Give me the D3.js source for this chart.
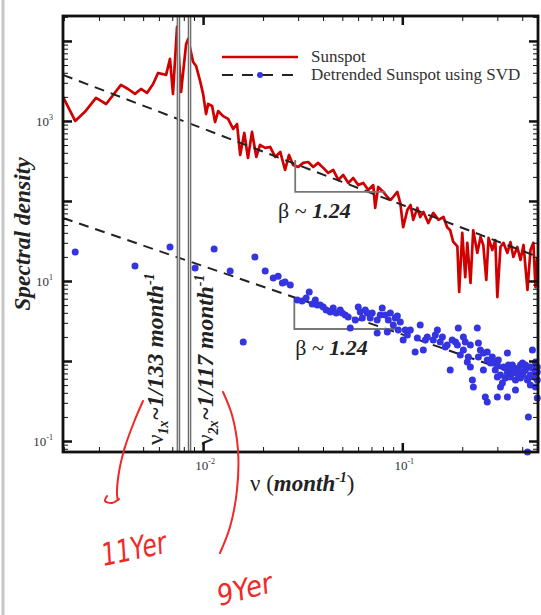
<!DOCTYPE html>
<html>
<head>
<meta charset="utf-8">
<script src="https://cdn.jsdelivr.net/npm/d3@7"></script>
<style>
  body { margin: 0; background: #fff; }
  svg { display: block; font-family: "Liberation Serif", "Times New Roman", serif; }
</style>
</head>
<body>
<div id="chart"></div>
<script>
// Sunspot spectrum (frequency in 1/month, spectral density)
const sunspotFreq = [
    0.00198, 0.00228, 0.00255, 0.0029, 0.00326, 0.00387, 0.0042, 0.00455, 0.00488, 0.00523,
    0.00561, 0.00594, 0.00652, 0.00682, 0.00706, 0.0074, 0.00775, 0.00822, 0.00841, 0.00891,
    0.00922, 0.00966, 0.01, 0.01035, 0.0106, 0.0111, 0.01148, 0.0119, 0.0126, 0.01335,
    0.01415, 0.0148, 0.01535, 0.0161, 0.0168, 0.0176, 0.0185, 0.0193, 0.0205, 0.0217,
    0.023, 0.0244, 0.0258, 0.027, 0.0283, 0.030, 0.0318, 0.0337, 0.0357, 0.0378,
    0.0401, 0.0425, 0.045, 0.0477, 0.0505, 0.0536, 0.0567, 0.0601, 0.0637, 0.0675,
    0.0715, 0.0731, 0.0757, 0.0803, 0.0841, 0.0871, 0.0891, 0.0944, 0.0977, 0.101,
    0.106, 0.110, 0.1135, 0.119, 0.123, 0.1276, 0.135, 0.143, 0.152, 0.161,
    0.168, 0.174, 0.180, 0.189, 0.193, 0.200, 0.207, 0.212, 0.220, 0.227,
    0.238, 0.247, 0.255, 0.264, 0.271, 0.283, 0.293, 0.300, 0.311, 0.322,
    0.337, 0.349, 0.361, 0.378, 0.392, 0.406, 0.425, 0.440, 0.455, 0.466, 0.476
];
const sunspotPower = [
    2000, 1000, 1300, 1940, 1630, 2820, 2510, 2180, 2510, 2240,
    2900, 3980, 3760, 5960, 2180, 15000, 2300, 9170, 10600, 5460,
    4870, 3160, 2180, 1220, 1630, 1540, 970, 1330, 1150, 1060,
    794, 917, 376, 708, 345, 729, 355, 501, 460, 473,
    355, 410, 244, 376, 282, 266, 299, 307, 266, 299,
    259, 224, 244, 183, 211, 168, 194, 158, 168, 137,
    158, 82, 150, 130, 112, 103, 109, 130, 94, 47,
    77, 89, 58, 82, 63, 73, 53, 71, 58, 63,
    47, 43, 31, 27, 7.3, 40, 11.2, 30, 9.44, 43,
    22.4, 35.5, 28.2, 10.3, 34.5, 24.4, 32.5, 6.3, 26.6, 30,
    22.4, 30.7, 20, 26.6, 18.3, 28.2, 7.72, 24.4, 30, 8.4, 20
];

// Detrended sunspot (SVD) spectrum: [frequency, density]
const detrendedSpectrum = [
    [0.00228, 23.0], [0.00455, 15.4], [0.00682, 26.6], [0.00912, 14.5], [0.01136, 25.1],
    [0.01367, 13.3], [0.0159, 1.73], [0.0182, 20.0], [0.0205, 13.3], [0.0225, 10.9],
    [0.0238, 11.5], [0.0250, 9.44], [0.0258, 9.72], [0.0274, 8.91], [0.0297, 5.79],
    [0.0314, 5.62], [0.0329, 6.13], [0.0341, 7.29], [0.0353, 5.16], [0.0366, 5.79],
    [0.0374, 5.01], [0.0387, 5.01], [0.0401, 4.73], [0.0415, 4.34], [0.0435, 4.10],
    [0.0450, 4.60], [0.0466, 3.98], [0.0488, 4.34], [0.0499, 3.98], [0.0517, 3.76],
    [0.0535, 3.55], [0.0548, 2.58], [0.0581, 3.25], [0.0601, 4.73], [0.0615, 4.10],
    [0.0630, 3.45], [0.0652, 4.34], [0.0667, 3.98], [0.0690, 3.45], [0.0706, 3.98],
    [0.0748, 3.25], [0.0748, 2.24], [0.0775, 3.76], [0.0793, 4.60], [0.0821, 3.76],
    [0.0841, 2.30], [0.0851, 3.25], [0.0871, 3.98], [0.0901, 2.82], [0.0922, 3.45],
    [0.0944, 3.65], [0.0955, 2.44], [0.0977, 3.07], [0.101, 1.83], [0.1035, 2.44],
    [0.106, 2.11], [0.1097, 2.44], [0.116, 1.30], [0.119, 1.94], [0.123, 2.82],
    [0.1275, 1.37], [0.1305, 1.83], [0.1335, 2.00], [0.143, 1.83], [0.1465, 2.11],
    [0.150, 2.44], [0.155, 1.73], [0.159, 2.00], [0.1645, 1.50], [0.168, 1.585],
    [0.174, 0.772], [0.178, 1.83], [0.185, 1.73], [0.189, 1.585], [0.191, 2.58],
    [0.1955, 1.19], [0.2026, 2.00], [0.2026, 1.37], [0.207, 1.73], [0.212, 0.97],
    [0.2146, 1.12], [0.2196, 0.841], [0.2196, 1.585], [0.2248, 0.579], [0.2274, 0.473],
    [0.238, 2.58], [0.241, 1.68], [0.241, 1.12], [0.2466, 1.37], [0.2553, 1.26],
    [0.2553, 0.772], [0.261, 0.355], [0.267, 0.307], [0.267, 1.30], [0.267, 1.03],
    [0.277, 0.944], [0.283, 1.12], [0.2865, 0.944], [0.293, 0.772], [0.300, 0.631],
    [0.300, 0.355], [0.300, 0.891], [0.3035, 1.03], [0.311, 0.668], [0.311, 0.473],
    [0.318, 0.531], [0.3217, 0.841], [0.329, 0.818], [0.329, 0.613], [0.337, 1.26],
    [0.337, 0.708], [0.337, 0.355], [0.341, 0.891], [0.349, 0.631], [0.349, 0.772],
    [0.357, 0.708], [0.357, 0.891], [0.361, 0.818], [0.370, 0.579], [0.370, 0.434],
    [0.370, 0.729], [0.378, 0.772], [0.383, 0.668], [0.383, 0.818], [0.392, 0.891],
    [0.392, 0.613], [0.401, 0.944], [0.401, 0.668], [0.4055, 0.729], [0.415, 0.772],
    [0.415, 0.891], [0.425, 0.841], [0.425, 0.579], [0.425, 0.0729], [0.4295, 0.613],
    [0.4295, 0.200], [0.4395, 0.841], [0.4395, 0.668], [0.4395, 0.501], [0.450, 1.37],
    [0.450, 0.818], [0.455, 0.668], [0.466, 0.729], [0.466, 0.473], [0.466, 0.970],
    [0.476, 0.841], [0.476, 0.579], [0.476, 0.345], [0.476, 0.729]
];

// Power-law fits (beta ~ 1.24), endpoints [frequency, density]
const fitSunspot = [[0.00198, 3760], [0.48, 20]];
const fitDetrended = [[0.00198, 61.3], [0.48, 0.562]];

// Slope triangles and their labels
const slopeSunspot = [[0.0290, 325], [0.0290, 130], [0.0821, 130]];
const slopeDetrended = [[0.0287, 6.13], [0.0287, 2.51], [0.0955, 2.51]];
const betaLabels = [{ f: 0.0238, p: 61.3, text: "1.24" }, { f: 0.029, p: 1.19, text: "1.24" }];

// Solar cycle frequencies (periods in months)
const cyclePeriods = [133, 117];
const cycleSubs = ["1x", "2x"];
const cycleLabelFreq = [0.00629, 0.01123];
const cycleLabelPower = 0.0891;

// Axis ranges and labelled ticks
const freqDomain = [0.00198, 0.48];
const powerDomain = [0.0729, 20500];
const xLabelTicks = [0.01, 0.1];
const yLabelTicks = [1000, 10, 0.1];

// Layout
const width = 541;
const height = 615;
const plot = { left: 63, top: 16, right: 538, bottom: 452 };

const svg = d3.select("#chart")
    .append("svg")
    .attr("width", width)
    .attr("height", height);

// page edge
svg.append("line")
    .attr("x1", 3).attr("x2", 3).attr("y1", 0).attr("y2", height)
    .attr("stroke", "#c6c6c6").attr("stroke-width", 3);

const x = d3.scaleLog().domain(freqDomain).range([plot.left, plot.right]);
const y = d3.scaleLog().domain(powerDomain).range([plot.bottom, plot.top]);

const line = d3.line().x(d => x(d[0])).y(d => y(d[1]));

// Sunspot spectrum
svg.append("path")
    .datum(d3.zip(sunspotFreq, sunspotPower))
    .attr("d", line)
    .attr("fill", "none")
    .attr("stroke", "#d00000")
    .attr("stroke-width", 2.7)
    .attr("stroke-linejoin", "round");

// Fit lines
svg.append("g")
    .selectAll("path")
    .data([fitSunspot, fitDetrended])
    .join("path")
    .attr("d", line)
    .attr("fill", "none")
    .attr("stroke", "#222")
    .attr("stroke-width", 2)
    .attr("stroke-dasharray", "10,7");

// Slope triangles
svg.append("g")
    .selectAll("path")
    .data([slopeSunspot, slopeDetrended])
    .join("path")
    .attr("d", line)
    .attr("fill", "none")
    .attr("stroke", "#777")
    .attr("stroke-width", 1.8);

// Detrended points
svg.append("g")
    .selectAll("circle")
    .data(detrendedSpectrum)
    .join("circle")
    .attr("cx", d => x(d[0]))
    .attr("cy", d => y(d[1]))
    .attr("r", 3.5)
    .attr("fill", "#3434e0");

// Cycle lines
const cycleG = svg.append("g")
    .selectAll("g")
    .data(cyclePeriods)
    .join("g");
cycleG.append("line")
    .attr("x1", d => x(1 / d)).attr("x2", d => x(1 / d))
    .attr("y1", plot.top).attr("y2", plot.bottom)
    .attr("stroke", "#6e6e6e").attr("stroke-width", 3.6);
cycleG.append("line")
    .attr("x1", d => x(1 / d)).attr("x2", d => x(1 / d))
    .attr("y1", plot.top).attr("y2", plot.bottom)
    .attr("stroke", "#d4d4d4").attr("stroke-width", 1);

// Cycle labels (rotated)
cyclePeriods.forEach((p, i) => {
    const t = svg.append("text")
        .attr("transform", `translate(${x(cycleLabelFreq[i])},${y(cycleLabelPower)}) rotate(-90)`)
        .attr("font-size", 23.5)
        .attr("fill", "#222");
    t.append("tspan").text("ν");
    t.append("tspan").attr("dy", 5).attr("font-size", 14)
        .attr("font-weight", "bold").attr("font-style", "italic").text(cycleSubs[i]);
    t.append("tspan").attr("dy", -5)
        .attr("font-weight", "bold").attr("font-style", "italic").text(`~1/${p} month`);
    t.append("tspan").attr("dy", -9).attr("font-size", 14)
        .attr("font-weight", "bold").attr("font-style", "italic").text("-1");
});

// Beta labels
betaLabels.forEach(b => {
    const t = svg.append("text")
        .attr("x", x(b.f)).attr("y", y(b.p))
        .attr("font-size", 22)
        .attr("fill", "#222");
    t.append("tspan").text("β ~ ");
    t.append("tspan").attr("font-weight", "bold").attr("font-style", "italic").text(b.text);
});

// Ticks
const isDecade = v => Math.abs(Math.log10(v) - Math.round(Math.log10(v))) < 1e-9;
const xTicks = x.ticks().filter(v => v >= freqDomain[0] && v <= freqDomain[1]);
const yTicks = y.ticks().filter(v => v >= powerDomain[0] && v <= powerDomain[1]);

function drawTicks(axisFn, scale, values, size, strokeW, transform) {
    svg.append("g")
        .attr("transform", transform)
        .call(axisFn(scale).tickValues(values).tickSize(size).tickFormat(""))
        .call(g => g.select(".domain").remove())
        .call(g => g.selectAll("line").attr("stroke", "#111").attr("stroke-width", strokeW));
}

[[d3.axisBottom, `translate(0,${plot.bottom})`], [d3.axisTop, `translate(0,${plot.top})`]].forEach(([fn, tr]) => {
    drawTicks(fn, x, xTicks.filter(v => !isDecade(v)), -5, 1, tr);
    drawTicks(fn, x, xTicks.filter(isDecade), -9, 2.5, tr);
});
[[d3.axisLeft, `translate(${plot.left},0)`], [d3.axisRight, `translate(${plot.right},0)`]].forEach(([fn, tr]) => {
    drawTicks(fn, y, yTicks.filter(v => !isDecade(v)), -5, 1, tr);
    drawTicks(fn, y, yTicks.filter(isDecade), -9, 2.5, tr);
});

// Frame
svg.append("rect")
    .attr("x", plot.left).attr("y", plot.top)
    .attr("width", plot.right - plot.left).attr("height", plot.bottom - plot.top)
    .attr("fill", "none").attr("stroke", "#111").attr("stroke-width", 2.8);

// Tick labels
function powerLabel(sel) {
    sel.each(function (d) {
        const t = d3.select(this);
        t.append("tspan").text("10");
        t.append("tspan").attr("dy", -6).attr("font-size", 8).text(Math.round(Math.log10(d)));
    });
}
svg.append("g")
    .selectAll("text")
    .data(yLabelTicks)
    .join("text")
    .attr("x", plot.left - 10)
    .attr("y", d => y(d) + 5)
    .attr("text-anchor", "end")
    .attr("font-size", 13)
    .attr("fill", "#333")
    .call(powerLabel);
svg.append("g")
    .selectAll("text")
    .data(xLabelTicks)
    .join("text")
    .attr("x", d => x(d) + 2)
    .attr("y", plot.bottom + 18)
    .attr("text-anchor", "middle")
    .attr("font-size", 13)
    .attr("fill", "#333")
    .call(powerLabel);

// Axis titles
svg.append("text")
    .attr("transform", `translate(30,${(plot.top + plot.bottom) / 2})rotate(-90)`)
    .attr("text-anchor", "middle")
    .attr("font-size", 23.5)
    .attr("font-weight", "bold")
    .attr("font-style", "italic")
    .attr("fill", "#222")
    .text("Spectral density");

const xt = svg.append("text")
    .attr("x", 250).attr("y", 491)
    .attr("font-size", 23)
    .attr("fill", "#222");
xt.append("tspan").text("ν (");
xt.append("tspan").attr("font-weight", "bold").attr("font-style", "italic").text("month");
xt.append("tspan").attr("dy", -9).attr("font-size", 14)
    .attr("font-weight", "bold").attr("font-style", "italic").text("-1");
xt.append("tspan").attr("dy", 9).text(")");

// Legend
const legend = svg.append("g").attr("transform", "translate(222,57)");
legend.append("line")
    .attr("x1", 0).attr("x2", 76).attr("y1", 0).attr("y2", 0)
    .attr("stroke", "#d00000").attr("stroke-width", 2.4);
legend.append("text")
    .attr("x", 89).attr("y", 5)
    .attr("font-size", 17).attr("fill", "#333")
    .text("Sunspot");
legend.append("line")
    .attr("x1", 0).attr("x2", 76).attr("y1", 18).attr("y2", 18)
    .attr("stroke", "#222").attr("stroke-width", 2).attr("stroke-dasharray", "11,9");
legend.append("circle")
    .attr("cx", 38).attr("cy", 18).attr("r", 3)
    .attr("fill", "#3434e0");
legend.append("text")
    .attr("x", 89).attr("y", 23)
    .attr("font-size", 17).attr("fill", "#333")
    .text("Detrended Sunspot using SVD");

// Handwritten notes
const noteCurves = [
    [[143, 401], [134, 422], [125, 447], [119, 472], [117, 495], [118, 500]],
    [[107, 496], [105, 501], [112, 503], [119, 499]],
    [[223, 392], [232, 415], [238, 450], [237, 490], [230, 527], [220, 553]]
];
svg.append("g")
    .selectAll("path")
    .data(noteCurves)
    .join("path")
    .attr("d", d3.line().curve(d3.curveCatmullRom))
    .attr("fill", "none")
    .attr("stroke", "#f02828")
    .attr("stroke-width", 2)
    .attr("stroke-linecap", "round");

svg.append("text")
    .attr("transform", "translate(104,566)rotate(-12)scale(0.9,1.2)")
    .attr("font-family", "DejaVu Sans")
    .attr("font-weight", 200)
    .attr("font-size", 26)
    .attr("font-style", "italic")
    .attr("fill", "#f02828")
    .text("11Yer");
svg.append("text")
    .attr("transform", "translate(220,606)rotate(-15)scale(1,1.1)")
    .attr("font-family", "DejaVu Sans")
    .attr("font-weight", 200)
    .attr("font-size", 26)
    .attr("font-style", "italic")
    .attr("fill", "#f02828")
    .text("9Yer");
</script>
</body>
</html>
